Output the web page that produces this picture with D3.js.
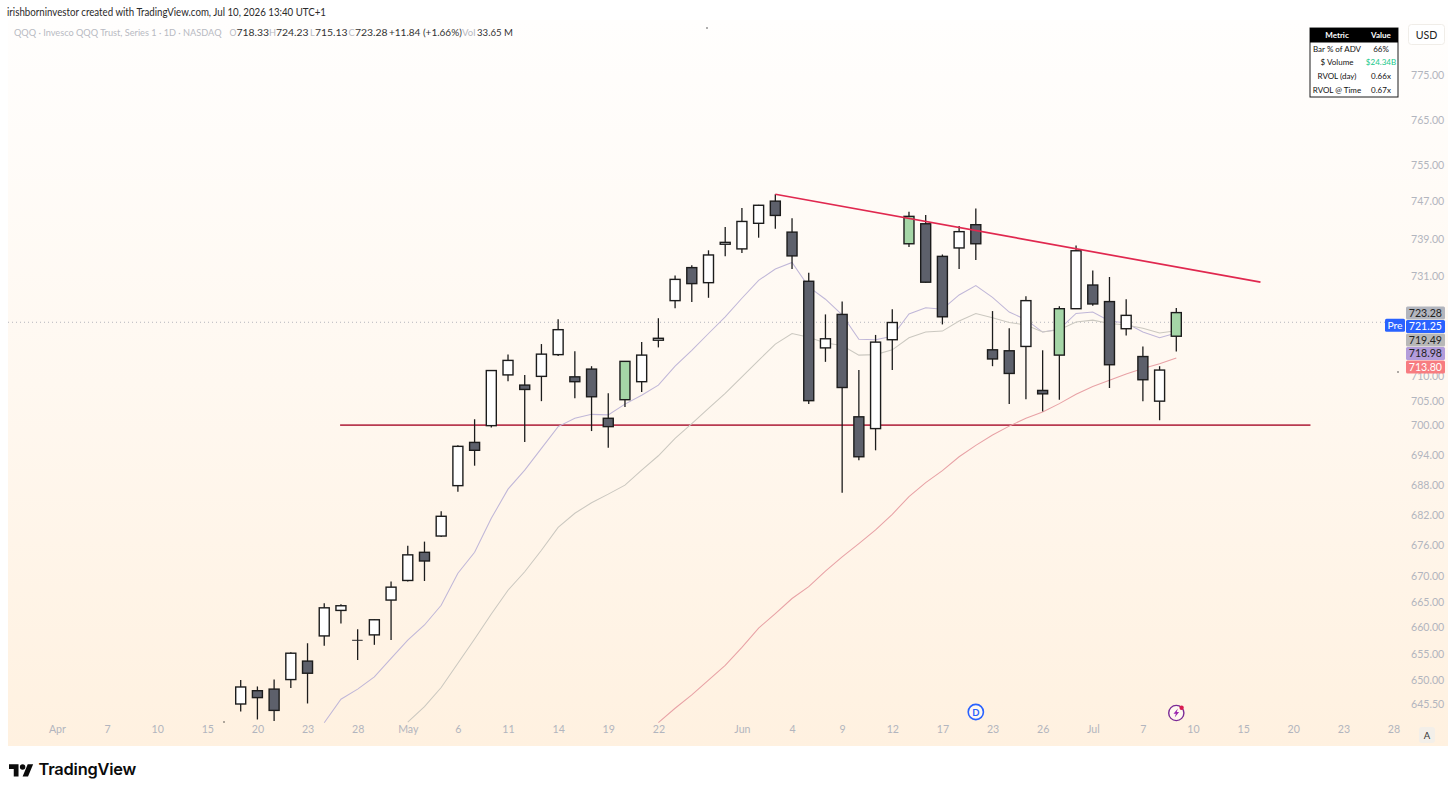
<!DOCTYPE html>
<html>
<head>
<meta charset="utf-8">
<script src="https://cdn.jsdelivr.net/npm/d3@7/dist/d3.min.js"></script>
<style>
html,body{margin:0;padding:0;background:#fff;}
svg{display:block;}
text{font-family:"Lato","Liberation Sans",sans-serif;}
</style>
</head>
<body>
<svg id="c" width="1456" height="793"></svg>
<script>
// ---------- data ----------
const opens  = [645.5,648.0,648.3,650.1,653.6,658.4,663.3,657.6,658.6,665.3,669.1,674.6,677.8,687.8,696.5,699.9,710.3,708.2,710.0,714.5,709.9,711.5,701.4,705.2,708.9,717.5,725.8,732.8,729.6,737.8,736.8,742.3,747.1,740.4,729.9,715.9,722.9,701.7,699.3,717.6,737.9,742.2,735.2,737.0,742.0,715.5,715.3,716.2,707.1,714.4,724.1,729.1,725.6,719.9,714.1,704.9,718.33];
const highs  = [650.0,648.8,650.1,655.3,657.0,664.7,664.5,659.7,661.6,668.9,675.9,676.7,682.7,695.9,701.2,711.2,714.5,710.3,716.7,721.9,715.2,712.1,706.5,713.2,717.1,722.1,731.1,733.3,736.5,741.5,745.6,746.3,748.6,743.4,731.7,722.9,725.6,711.3,718.6,724.0,744.8,744.1,735.6,741.7,745.5,723.6,720.0,726.7,715.4,724.6,737.5,732.2,730.8,726.1,716.2,712.1,724.23];
const lows   = [644.1,642.6,642.3,648.5,645.6,656.5,660.8,653.8,656.7,657.6,668.9,669.0,677.6,686.6,691.8,699.5,709.0,696.6,704.9,714.2,705.5,698.8,695.4,703.7,706.8,716.0,724.2,725.5,726.4,735.2,735.9,739.2,741.1,732.5,704.3,713.0,686.4,692.9,694.9,711.3,737.2,729.6,720.8,732.5,734.4,712.1,704.3,705.3,702.8,705.2,724.1,724.7,707.6,718.5,704.9,701.0,715.13];
const closes = [648.7,646.7,644.3,655.1,651.3,663.8,664.2,657.5,661.5,667.8,674.1,672.9,681.7,695.7,694.9,711.2,713.3,707.3,714.6,719.7,708.9,705.8,699.7,713.1,714.4,717.9,730.3,729.4,735.5,738.2,742.7,746.2,744.0,735.3,705.0,717.8,707.7,693.6,717.1,721.2,743.8,729.7,722.4,740.5,737.9,713.6,710.6,725.8,706.4,724.1,736.4,725.1,712.4,722.7,709.3,711.3,723.28];
const greenBars = [23,40,49,56];

const maFastStart = 5;
const maFast = [642.0,646.4,648.3,650.6,654.1,657.6,660.5,664.3,670.5,674.6,681.3,687.1,690.9,695.3,699.7,701.4,702.2,702.1,704.3,706.1,708.2,712.1,715.4,718.9,722.4,726.3,730.1,732.5,733.9,728.7,726.1,722.8,717.7,717.6,718.3,723.0,724.3,724.0,727.0,729.0,726.5,723.4,721.8,719.2,719.8,723.1,723.4,721.5,721.1,719.2,718.0,718.98];
const maMidStart = 10;
const maMid = [642.1,645.0,648.6,653.2,657.8,662.6,667.2,670.8,675.0,679.5,682.3,684.4,686.1,687.9,690.9,693.8,697.3,700.3,703.4,706.5,709.9,713.3,716.7,718.9,718.1,716.9,716.4,714.4,714.5,715.5,718.0,719.2,719.4,721.5,723.1,722.2,721.2,720.7,719.2,719.7,721.3,721.7,721.0,720.7,720.0,719.0,719.49];
const maSlowStart = 25;
const maSlow = [642.0,644.7,647.2,650.0,652.8,656.2,659.9,662.7,665.6,667.9,670.9,673.7,676.3,679.0,682.1,685.6,688.4,690.8,693.6,695.9,698.0,699.8,701.4,702.7,704.4,706.3,707.9,709.2,710.5,711.6,712.6,713.8];

const trendFallI = [32,61.04], trendFallP = [748.6,729.7];
const supportI = [5.95,64.03], supportP = [700,700];

const yTickValues = [775,765,755,747,739,731,710,705,700,694,688,682,676,670,665,660,655,650,645.5];
const xTickIndex  = [-11,-8,-5,-2,1,4,7,10,13,16,19,22,25,30,33,36,39,42,45,48,51,54,57,60,63,66,69];
const xTickLabels = ["Apr","7","10","15","20","23","28","May","6","11","14","19","22","Jun","4","9","12","17","23","26","Jul","7","10","15","20","23","28"];

const priceTags = [
  {v:"723.28",bg:"#b2b5be",fg:"#222"},
  {v:"721.25",bg:"#2962ff",fg:"#fff"},
  {v:"719.49",bg:"#b8b8b8",fg:"#222"},
  {v:"718.98",bg:"#b39ddb",fg:"#222"},
  {v:"713.80",bg:"#f77c80",fg:"#fff"}
];
const preMarket = 721.25;
const tableRows = [["Metric","Value"],["Bar % of ADV","66%"],["$ Volume","$24.34B"],["RVOL (day)","0.66x"],["RVOL @ Time","0.67x"]];
const legendParts = [
  {x:14,t:"QQQ · Invesco QQQ Trust, Series 1 · 1D · NASDAQ",c:"#b8bac2",fs:9.2},
  {x:229.5,t:"O",c:"#b8bac2",fs:8.6},{x:236.5,t:"718.33",c:"#333",fs:10.4},
  {x:269,t:"H",c:"#b8bac2",fs:9.2},{x:276,t:"724.23",c:"#333",fs:10.4},
  {x:310,t:"L",c:"#b8bac2",fs:9.2},{x:315,t:"715.13",c:"#333",fs:10.4},
  {x:348.5,t:"C",c:"#b8bac2",fs:9.2},{x:355,t:"723.28",c:"#333",fs:10.4},
  {x:389,t:"+11.84 (+1.66%)",c:"#333",fs:10},
  {x:462,t:"Vol",c:"#b8bac2",fs:9.6},{x:477,t:"33.65 M",c:"#333",fs:9.6}
];

// ---------- scales ----------
const svg = d3.select("#c");
const x = d3.scaleLinear().domain([0,56]).range([240.7,1176.3]);
const y = d3.scaleLog().domain([775,645.5]).range([75,704]);

// ---------- chrome ----------
const defs = svg.append("defs");
const g = defs.append("linearGradient").attr("id","bg").attr("x1",0).attr("y1",0).attr("x2",0).attr("y2",1);
g.append("stop").attr("offset","0%").attr("stop-color","#fffefd");
g.append("stop").attr("offset","50%").attr("stop-color","#fff8f0");
g.append("stop").attr("offset","100%").attr("stop-color","#fff1e0");

svg.append("text").attr("x",7).attr("y",16).attr("font-size",10.8).attr("fill","#2a2a2a")
  .attr("textLength",319).attr("lengthAdjust","spacingAndGlyphs")
  .text("irishborninvestor created with TradingView.com, Jul 10, 2026 13:40 UTC+1");
svg.append("rect").attr("x",8).attr("y",20).attr("width",1440).attr("height",726).attr("fill","url(#bg)");

// legend
svg.append("g").selectAll("text").data(legendParts).join("text")
  .attr("x",d=>d.x).attr("y",36).attr("font-size",d=>d.fs).attr("fill",d=>d.c).text(d=>d.t);

// axes
const yAxis = d3.axisRight(y).tickValues(yTickValues).tickSize(0).tickPadding(0).tickFormat(d3.format(".2f"));
const yg = svg.append("g").attr("transform","translate(1411,0)").call(yAxis);
yg.select(".domain").remove();
yg.selectAll("text").attr("font-size",10.6).attr("fill","#b2b5be").attr("font-family","Roboto");
const xAxis = d3.axisBottom(x).tickValues(xTickIndex).tickSize(0).tickPadding(0).tickFormat((d,i)=>xTickLabels[i]);
const xg = svg.append("g").attr("transform","translate(0,725)").call(xAxis);
xg.select(".domain").remove();
xg.selectAll("text").attr("font-size",10.6).attr("fill","#b2b5be").attr("font-family","Roboto");

// pre-market line
svg.append("line").attr("x1",8).attr("x2",1406).attr("y1",y(preMarket)).attr("y2",y(preMarket))
  .attr("stroke","#b5b5bd").attr("stroke-width",1).attr("stroke-dasharray","1 3");

// support line (under candles)
svg.append("line").attr("x1",x(supportI[0])).attr("x2",x(supportI[1])).attr("y1",y(supportP[0])).attr("y2",y(supportP[1]))
  .attr("stroke","#b83a50").attr("stroke-width",1.8);

// moving averages
const line = start => d3.line().x((d,i)=>x(i+start)).y(d=>y(d));
const maG = svg.append("g").attr("fill","none").attr("stroke-width",1.05);
maG.append("path").attr("d",line(maFastStart)(maFast)).attr("stroke","#c0b7d8");
maG.append("path").attr("d",line(maMidStart)(maMid)).attr("stroke","#cbc8c0");
maG.append("path").attr("d",line(maSlowStart)(maSlow)).attr("stroke","#e8a2a6");

// candles
const bars = opens.map((o,i)=>({i,o,h:highs[i],l:lows[i],c:closes[i]}));
const cg = svg.append("g").selectAll("g").data(bars).join("g");
const ink = "#1c1c1c";
const bodyH = d => Math.abs(y(d.o)-y(d.c));
cg.append("line").attr("x1",d=>x(d.i)).attr("x2",d=>x(d.i)).attr("y1",d=>y(d.h)).attr("y2",d=>y(d.l))
  .attr("stroke",ink).attr("stroke-width",1.3);
cg.append("rect").attr("x",d=>x(d.i)-5).attr("width",10)
  .attr("y",d=>y(Math.max(d.o,d.c)))
  .attr("height",bodyH)
  .attr("fill",d=>greenBars.includes(d.i)?"#a5d6a7":(d.c>=d.o?"#ffffff":"#5d606b"))
  .attr("stroke",ink).attr("stroke-width",d=>bodyH(d)<1?0.6:1.4);

// falling trendline (above candles)
svg.append("line").attr("x1",x(trendFallI[0])).attr("x2",x(trendFallI[1])).attr("y1",y(trendFallP[0])).attr("y2",y(trendFallP[1]))
  .attr("stroke","#e0284f").attr("stroke-width",1.7);

// price tags
const tagY0 = 313, tagStep = 13.5;
const tagG = svg.append("g").selectAll("g").data(priceTags).join("g")
  .attr("transform",(d,i)=>`translate(1406,${tagY0+i*tagStep})`);
tagG.append("rect").attr("x",0).attr("y",-6.6).attr("width",39).attr("height",13.2).attr("rx",1.5).attr("fill",d=>d.bg);
tagG.append("text").attr("x",36).attr("y",3.8).attr("text-anchor","end").attr("font-size",10.6)
  .attr("font-family","Roboto").attr("fill",d=>d.fg).text(d=>d.v);
const pre = svg.append("g").attr("transform",`translate(1385,${y(preMarket)+3})`);
pre.append("rect").attr("x",0).attr("y",-6.6).attr("width",20).attr("height",13.2).attr("rx",1.5).attr("fill","#2962ff");
pre.append("text").attr("x",10).attr("y",3.8).attr("text-anchor","middle").attr("font-size",10.4).attr("fill","#fff").text("Pre");

// metric table
const tb = svg.append("g").attr("transform","translate(1310,28)");
tb.append("rect").attr("x",0).attr("y",0).attr("width",88).attr("height",69).attr("fill","#fff").attr("stroke","#1c1c1c").attr("stroke-width",1);
tb.append("rect").attr("x",0).attr("y",0).attr("width",88).attr("height",14.5).attr("fill","#000");
tableRows.forEach((r,i)=>{
  const ty = 10 + i*13.7;
  tb.append("text").attr("x",27).attr("y",ty).attr("text-anchor","middle").attr("font-size",8)
    .attr("font-weight",i==0?"bold":"normal").attr("fill",i==0?"#fff":"#111").text(r[0]);
  tb.append("text").attr("x",71).attr("y",ty).attr("text-anchor","middle").attr("font-size",8)
    .attr("font-weight",i==0?"bold":"normal").attr("fill",i==0?"#fff":(i==2?"#19c98a":"#111")).text(r[1]);
});

// USD button
svg.append("rect").attr("x",1408.5).attr("y",24.5).attr("width",36).attr("height",20).attr("rx",3).attr("fill","#fff").attr("stroke","#f0ede8");
svg.append("text").attr("x",1426.5).attr("y",39).attr("text-anchor","middle").attr("font-size",10.6).attr("fill","#222").attr("font-family","Roboto").text("USD");

// A button
svg.append("rect").attr("x",1419).attr("y",727).attr("width",16).attr("height",16).attr("rx",3).attr("fill","#f3efe9");
svg.append("text").attr("x",1427).attr("y",739).attr("text-anchor","middle").attr("font-size",9.5).attr("fill","#333").text("A");

// event icons
const evY = 713;
const eD = svg.append("g").attr("transform",`translate(${x(44)},${evY-1})`);
eD.append("circle").attr("r",7.6).attr("fill","#fff8f0").attr("stroke","#2962ff").attr("stroke-width",1.6);
eD.append("text").attr("y",3.5).attr("text-anchor","middle").attr("font-size",9.5).attr("font-weight","bold").attr("fill","#2962ff").text("D");
const eE = svg.append("g").attr("transform",`translate(${x(56)},${evY})`);
eE.append("circle").attr("r",7.6).attr("fill","#fff8f0").attr("stroke","#7b2a96").attr("stroke-width",1.4);
eE.append("path").attr("d","M1.6,-4.5 L-2.8,0.8 L-0.4,0.8 L-1.6,4.5 L2.8,-1 L0.4,-1 Z").attr("fill","#9c27b0");
eE.append("circle").attr("cx",5.3).attr("cy",-5.3).attr("r",2.2).attr("fill","#d81b50");

// stray dots in the picture
[[224,722],[707,28],[1398,372]].forEach(p=>svg.append("circle").attr("cx",p[0]).attr("cy",p[1]).attr("r",0.7).attr("fill","#222"));

// TradingView logo
const logo = svg.append("g").attr("transform","translate(9,763) scale(0.68)");
logo.append("path").attr("d","M14 20H7V9H0V2h14v18zM28 20h-8l7.5-18h8L28 20z").attr("fill","#0b0b0b");
logo.append("circle").attr("cx",20).attr("cy",6).attr("r",4).attr("fill","#0b0b0b");
svg.append("text").attr("x",38.5).attr("y",775).attr("font-size",16.4).attr("font-weight",600)
  .attr("style","font-family:Inter").attr("fill","#0b0b0b").attr("letter-spacing","-0.2").text("TradingView");
</script>
</body>
</html>
